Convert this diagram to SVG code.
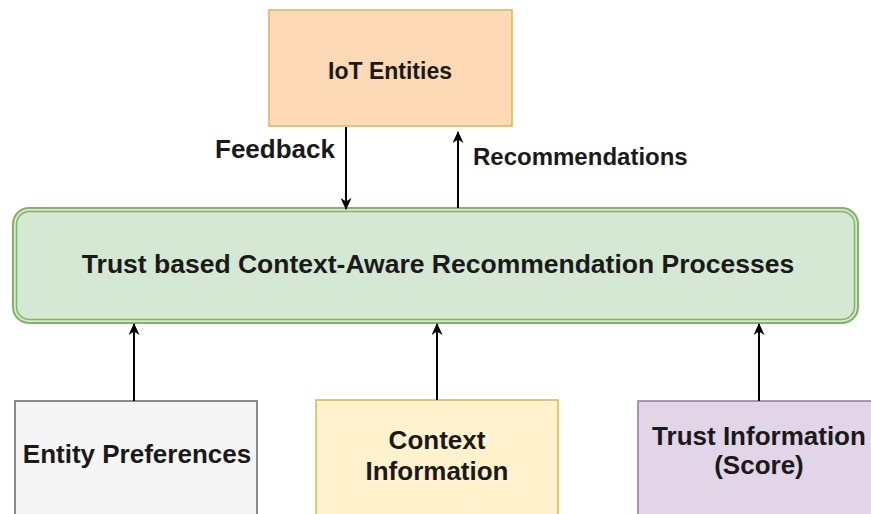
<svg xmlns="http://www.w3.org/2000/svg" width="871" height="514" viewBox="0 0 871 514">
<defs>
<style>
text{font-family:"Liberation Sans",Arial,sans-serif;font-weight:bold;fill:#1a1a1a;}
.c{text-anchor:middle;}
.edge{stroke:#000;stroke-width:2;fill:none;}
</style>
<marker id="ah" markerWidth="12" markerHeight="11" refX="11" refY="5.5" orient="auto" markerUnits="userSpaceOnUse">
<path d="M0,0 L12,5.5 L0,11 L3.5,5.5 z" fill="#000"/>
</marker>
</defs>
<rect width="871" height="514" fill="#fff"/>
<g id="iot">
<rect x="269" y="10" width="243" height="116" fill="#fdd9b5" stroke="#d6b656" stroke-width="1.5"/>
<text class="c" x="390" y="79" font-size="23">IoT Entities</text>
</g>
<g id="process">
<rect x="13" y="208" width="845" height="115" rx="16" fill="#d5e8d4" stroke="#82b366" stroke-width="2"/>
<rect x="16.5" y="211.5" width="838" height="108" rx="13" fill="none" stroke="#82b366" stroke-width="1.5"/>
<text class="c" x="438" y="273" font-size="26.5">Trust based Context-Aware Recommendation Processes</text>
</g>
<g id="prefs">
<rect x="15" y="401" width="242" height="120" fill="#f5f5f5" stroke="#666666" stroke-width="1.5"/>
<text class="c" x="137" y="463" font-size="26">Entity Preferences</text>
</g>
<g id="context">
<rect x="316" y="400" width="242" height="120" fill="#fff2cc" stroke="#d6b656" stroke-width="1.5"/>
<text class="c" x="437" y="449" font-size="26">Context</text>
<text class="c" x="437" y="480" font-size="26">Information</text>
</g>
<g id="trust">
<rect x="638" y="401" width="242" height="120" fill="#e1d5e7" stroke="#9673a6" stroke-width="1.5"/>
<text class="c" x="759" y="445" font-size="26">Trust Information</text>
<text class="c" x="759" y="474" font-size="26">(Score)</text>
</g>
<g id="connectors">
<line class="edge" x1="346" y1="127" x2="346" y2="209" marker-end="url(#ah)"/>
<line class="edge" x1="458" y1="208" x2="458" y2="132" marker-end="url(#ah)"/>
<line class="edge" x1="134" y1="401" x2="134" y2="324" marker-end="url(#ah)"/>
<line class="edge" x1="437" y1="400" x2="437" y2="324" marker-end="url(#ah)"/>
<line class="edge" x1="759" y1="401" x2="759" y2="324" marker-end="url(#ah)"/>
<text x="215" y="158" font-size="26">Feedback</text>
<text x="473" y="165" font-size="24">Recommendations</text>
</g>
</svg>
